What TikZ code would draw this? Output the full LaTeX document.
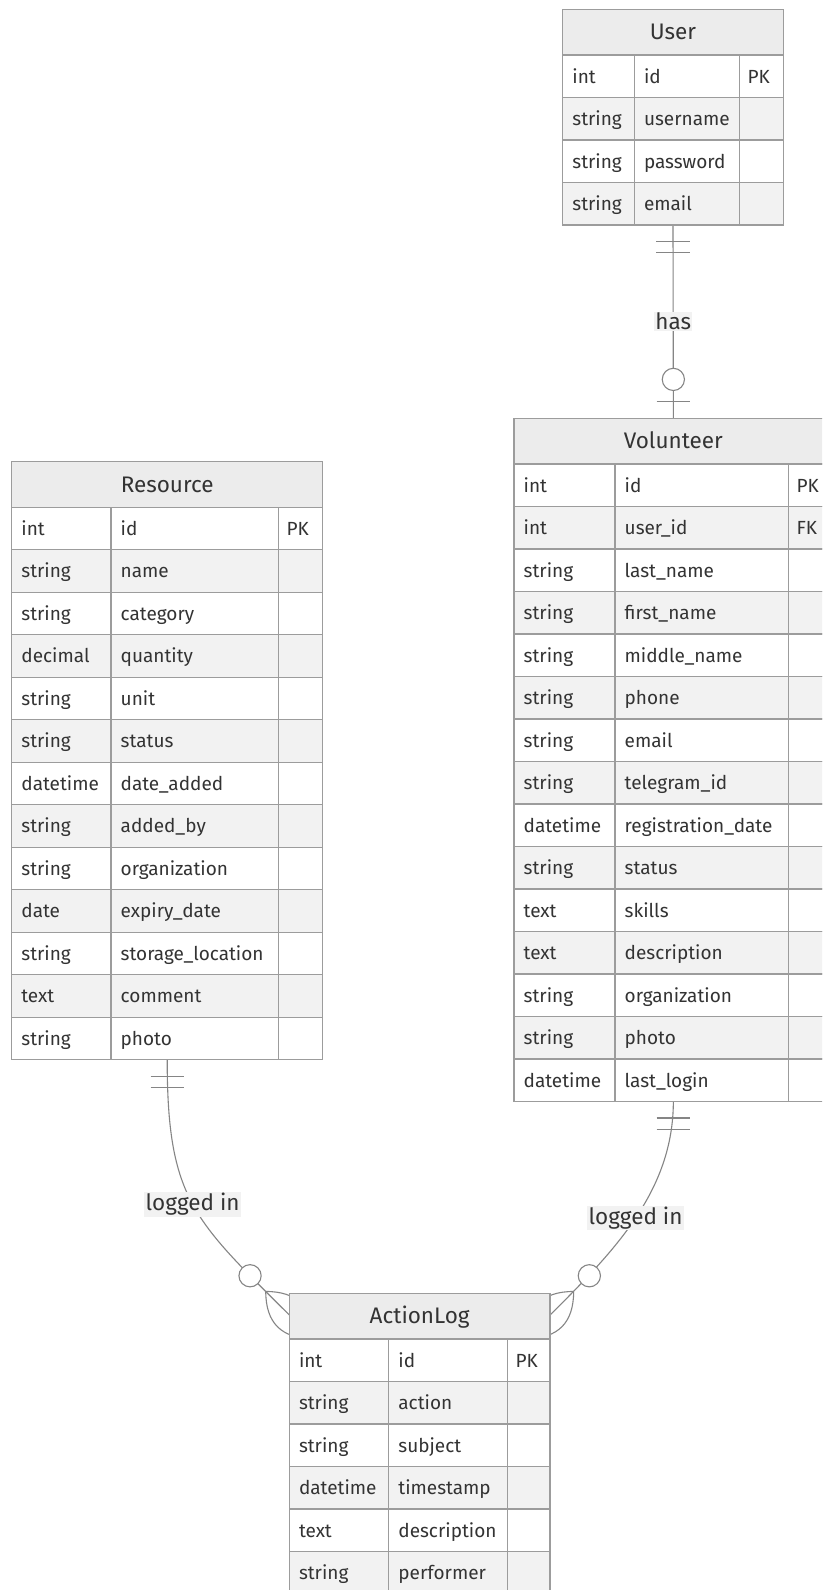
\documentclass[tikz,border=0pt]{standalone}
\usepackage{fontspec}
\setmainfont{Fira Sans}
\usetikzlibrary{calc}

\definecolor{tableline}{HTML}{9C9C9C}
\definecolor{headfill}{HTML}{ECECEC}
\definecolor{evenfill}{HTML}{F2F2F2}
\definecolor{inktext}{HTML}{333333}
\definecolor{edgeline}{HTML}{858585}
\definecolor{labelfill}{HTML}{F2F2F2}

\tikzset{
  cell/.style={font=\fontsize{19}{22}\selectfont, text=inktext, anchor=base west, inner sep=0pt},
  title/.style={font=\fontsize{22.5}{26}\selectfont, text=inktext, anchor=base, inner sep=0pt},
  box/.style={draw=tableline, line width=1.4pt},
  rel/.style={draw=edgeline, line width=1.1pt},
  rellabel/.style={fill=labelfill, font=\fontsize{22.5}{26}\selectfont, text=inktext, inner sep=1.2pt},
  entity/.style={inner sep=0pt, outer sep=0pt, anchor=north west},
}

% invisible frame of an entity: name, left, right, top, bottom
\newcommand\entityframe[5]{%
  \node[entity, minimum width={(#3-#2)*1pt}, minimum height={(#5-#4)*1pt}] (#1) at (#2,#4) {};
}

% table of an entity: title, x0, x1, x2, x3, top, rows type/name/key
\newcommand\entitytable[7]{%
  \pgfmathsetmacro\hb{#6+45.5}
  \fill[headfill] (#2,#6) rectangle (#5,\hb);
  % row backgrounds first
  \foreach \ty/\nm/\ky [count=\i] in {#7} {
    \pgfmathsetmacro\ra{\hb+(\i-1)*42.5}
    \pgfmathsetmacro\rb{\ra+42.5}
    \ifodd\i
      \fill[white] (#2,\ra) rectangle (#5,\rb);
    \else
      \fill[evenfill] (#2,\ra) rectangle (#5,\rb);
    \fi
  }
  % grid lines and texts
  \draw[box] (#2,#6) rectangle (#5,\hb);
  \node[title] (#1-title) at ({(#2+#5)/2},{#6+30.5}) {#1};
  \foreach \ty/\nm/\ky [count=\i] in {#7} {
    \pgfmathsetmacro\ra{\hb+(\i-1)*42.5}
    \pgfmathsetmacro\rb{\ra+42.5}
    \pgfmathsetmacro\rc{\ra+28.2}
    \draw[box] (#2,\ra) rectangle (#5,\rb);
    \draw[box] (#3,\ra) -- (#3,\rb) (#4,\ra) -- (#4,\rb);
    \node[cell] (#1-t\i) at (#2+9.5,\rc) {\ty};
    \node[cell] (#1-n\i) at (#3+9.5,\rc) {\nm};
    \def\nokey{-}
    \ifx\ky\nokey\else
      \node[cell] (#1-k\i) at (#4+8,\rc) {\ky};
    \fi
  }
}

\begin{document}
\begin{tikzpicture}[x=1pt,y=-1pt]
\useasboundingbox (0,0) rectangle (822,1590);
\clip (0,0) rectangle (822,1590);
\fill[white] (0,0) rectangle (822,1590);

% entity frames
\entityframe{User}{562.7}{783.3}{9.3}{224.8}
\entityframe{Volunteer}{514}{832.7}{418.3}{1101.3}
\entityframe{Resource}{11.7}{322.7}{461.7}{1059.7}
\entityframe{ActionLog}{289.3}{550.1}{1293.3}{1593.8}

\coordinate (EL) at ($(ActionLog.north west)+(0,21.7)$);
\coordinate (ER) at ($(ActionLog.north east)+(0,21.7)$);

% relationships
\draw[rel] (User.south) -- node[rellabel] (lhas) {has} (Volunteer.north);
\draw[rel] (Resource.south) .. controls +(0,140) and +(-95,-95) .. node[rellabel, pos=0.5] (lres) {logged in} (EL);
\draw[rel] (Volunteer.south) .. controls +(0,90) and +(63.6,-63.6) .. node[rellabel, pos=0.5] (lvol) {logged in} (ER);

% exactly one at User
\begin{scope}[shift={(User.south)}]
  \draw[rel] (-16.7,16.7) -- (16.7,16.7) (-16.7,27.8) -- (16.7,27.8);
\end{scope}
% zero or one at Volunteer
\begin{scope}[shift={(Volunteer.north)}]
  \draw[rel] (-16.7,-16.7) -- (16.7,-16.7);
  \draw[rel, fill=white] (0,-38.9) circle[radius=11.1];
\end{scope}
% exactly one at Resource and at Volunteer (bottom)
\begin{scope}[shift={(Resource.south)}]
  \draw[rel] (-16.7,16.7) -- (16.7,16.7) (-16.7,27.8) -- (16.7,27.8);
\end{scope}
\begin{scope}[shift={(Volunteer.south)}]
  \draw[rel] (-16.7,16.7) -- (16.7,16.7) (-16.7,27.8) -- (16.7,27.8);
\end{scope}
% zero or more at ActionLog
\begin{scope}[shift={(EL)}, rotate=-45]
  \draw[rel] (-33.3,0) .. controls (-11.1,-22.2) and (11.1,-22.2) .. (33.3,0)
             .. controls (11.1,22.2) and (-11.1,22.2) .. (-33.3,0);
  \draw[rel, fill=white] (-55.5,0) circle[radius=11.1];
\end{scope}
\begin{scope}[shift={(ER)}, rotate=-135]
  \draw[rel] (-33.3,0) .. controls (-11.1,-22.2) and (11.1,-22.2) .. (33.3,0)
             .. controls (11.1,22.2) and (-11.1,22.2) .. (-33.3,0);
  \draw[rel, fill=white] (-55.5,0) circle[radius=11.1];
\end{scope}

% tables
\entitytable{User}{562.7}{634.3}{739.3}{783.3}{9.3}{int/id/PK, string/username/-, string/password/-, string/email/-}
\entitytable{Volunteer}{514}{615}{788.3}{832.7}{418.3}{int/id/PK, int/user\_id/FK, string/last\_name/-, string/first\_name/-, string/middle\_name/-, string/phone/-, string/email/-, string/telegram\_id/-, datetime/registration\_date/-, string/status/-, text/skills/-, text/description/-, string/organization/-, string/photo/-, datetime/last\_login/-}
\entitytable{Resource}{11.7}{111}{278.3}{322.7}{461.7}{int/id/PK, string/name/-, string/category/-, decimal/quantity/-, string/unit/-, string/status/-, datetime/date\_added/-, string/added\_by/-, string/organization/-, date/expiry\_date/-, string/storage\_location/-, text/comment/-, string/photo/-}
\entitytable{ActionLog}{289.3}{388.7}{507.5}{550.1}{1293.3}{int/id/PK, string/action/-, string/subject/-, datetime/timestamp/-, text/description/-, string/performer/-}
\end{tikzpicture}
\end{document}
